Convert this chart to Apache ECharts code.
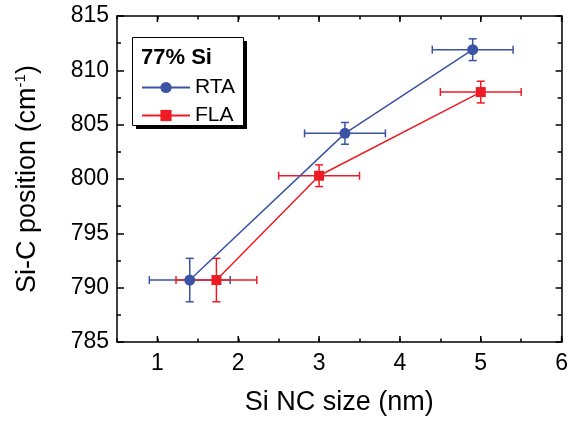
<!DOCTYPE html>
<html>
<head>
<meta charset="utf-8">
<script src="https://cdn.jsdelivr.net/npm/echarts@6/dist/echarts.min.js"></script>
<style>
  html, body { margin: 0; padding: 0; background: #fff; }
  #chart { width: 571px; height: 421px; }
</style>
</head>
<body>
<div id="chart"></div>
<script>
// Axis tick labels
const xTicks = [1, 2, 3, 4, 5, 6];
const yTicks = [785, 790, 795, 800, 805, 810, 815];

// Rapid thermal annealing: Si NC size (nm), Si-C peak position (cm^-1), errors
const rtaSize = [1.4, 3.32, 4.9];
const rtaPos = [790.7, 804.2, 811.9];
const rtaSizeErr = [0.5, 0.5, 0.5];
const rtaPosErr = [2, 1, 1];

// Flash lamp annealing
const flaSize = [1.73, 3.0, 5.0];
const flaPos = [790.7, 800.3, 808.0];
const flaSizeErr = [0.5, 0.5, 0.5];
const flaPosErr = [2, 1, 1];

const BLUE = '#3a53a4';
const RED = '#ed1c24';
const FONT = '"Liberation Sans", Arial, Helvetica, sans-serif';

const xMin = 0.5, xMax = xTicks[xTicks.length - 1];
const yMin = yTicks[0], yMax = yTicks[yTicks.length - 1];

function errorBars(sx, sy, ex, ey, color) {
  return {
    type: 'custom',
    z: 2,
    silent: true,
    encode: { x: 0, y: 1 },
    data: sx.map((x, i) => [x, sy[i], ex[i], ey[i]]),
    renderItem(params, api) {
      const x = api.value(0), y = api.value(1), dx = api.value(2), dy = api.value(3);
      const c = api.coord([x, y]);
      const l = api.coord([x - dx, y])[0];
      const r = api.coord([x + dx, y])[0];
      const t = api.coord([x, y + dy])[1];
      const b = api.coord([x, y - dy])[1];
      const cap = 4;
      const style = { stroke: color, lineWidth: 1.5 };
      const seg = (x1, y1, x2, y2) => ({ type: 'line', shape: { x1, y1, x2, y2 }, style });
      return {
        type: 'group',
        children: [
          seg(l, c[1], r, c[1]),
          seg(l, c[1] - cap, l, c[1] + cap),
          seg(r, c[1] - cap, r, c[1] + cap),
          seg(c[0], t, c[0], b),
          seg(c[0] - cap, t, c[0] + cap, t),
          seg(c[0] - cap, b, c[0] + cap, b)
        ]
      };
    }
  };
}

// Longer major ticks at integer sizes on the bottom and top frame
const majorXTicks = {
  type: 'custom',
  z: 5,
  silent: true,
  encode: { x: 0 },
  data: xTicks.map(v => [v]),
  renderItem(params, api) {
    const v = api.value(0);
    const bottom = api.coord([v, yMin]);
    const top = api.coord([v, yMax]);
    const len = 6;
    const style = { stroke: '#000', lineWidth: 1.5 };
    return {
      type: 'group',
      children: [
        { type: 'line', shape: { x1: bottom[0], y1: bottom[1], x2: bottom[0], y2: bottom[1] - len }, style },
        { type: 'line', shape: { x1: top[0], y1: top[1], x2: top[0], y2: top[1] + len }, style }
      ]
    };
  }
};

const axisLine = { show: true, onZero: false, lineStyle: { color: '#000', width: 1.5 } };

const chart = echarts.init(document.getElementById('chart'), null, { renderer: 'canvas' });
chart.setOption({
  backgroundColor: '#fff',
  animation: false,
  grid: { left: 117, right: 7, top: 16, bottom: 77, containLabel: false },
  xAxis: [
    {
      type: 'value', position: 'bottom', min: xMin, max: xMax, interval: 0.5,
      axisLine,
      axisTick: { show: true, inside: true, length: 3.5, lineStyle: { color: '#000', width: 1.5 } },
      axisLabel: {
        show: true, margin: 10, color: '#000', fontSize: 23, fontFamily: FONT,
        formatter: v => (xTicks.includes(v) ? String(v) : '')
      },
      splitLine: { show: false },
      name: 'Si NC size (nm)', nameLocation: 'middle', nameGap: 47,
      nameTextStyle: { color: '#000', fontSize: 27, fontFamily: FONT }
    },
    {
      type: 'value', position: 'top', min: xMin, max: xMax, interval: 0.5,
      axisLine,
      axisTick: { show: true, inside: true, length: 3.5, lineStyle: { color: '#000', width: 1.5 } },
      axisLabel: { show: false },
      splitLine: { show: false }
    }
  ],
  yAxis: [
    {
      type: 'value', position: 'left', min: yMin, max: yMax, interval: 5,
      axisLine,
      axisTick: { show: true, inside: true, length: 7, lineStyle: { color: '#000', width: 1.5 } },
      minorTick: { show: true, splitNumber: 2, length: 4, lineStyle: { color: '#000', width: 1.5 } },
      axisLabel: { show: true, margin: 8, color: '#000', fontSize: 23, fontFamily: FONT },
      splitLine: { show: false },
      minorSplitLine: { show: false },
      name: '{a|Si-C position (cm}{s|-1}{a|)}', nameLocation: 'middle', nameGap: 74, nameRotate: 90,
      nameTextStyle: {
        color: '#000', fontFamily: FONT,
        rich: {
          a: { fontSize: 27, fontFamily: FONT, color: '#000', lineHeight: 30 },
          s: { fontSize: 15, fontFamily: FONT, color: '#000', verticalAlign: 'top', lineHeight: 30 }
        }
      }
    },
    {
      type: 'value', position: 'right', min: yMin, max: yMax, interval: 5,
      axisLine,
      axisTick: { show: true, inside: true, length: 6, lineStyle: { color: '#000', width: 1.5 } },
      minorTick: { show: true, splitNumber: 2, length: 4, lineStyle: { color: '#000', width: 1.5 } },
      axisLabel: { show: false },
      splitLine: { show: false },
      minorSplitLine: { show: false }
    }
  ],
  legend: {
    data: ['RTA', 'FLA'],
    orient: 'vertical',
    left: 141, top: 77,
    padding: 0,
    itemWidth: 48, itemHeight: 14, itemGap: 7,
    textStyle: { color: '#000', fontSize: 21, fontFamily: FONT },
    selectedMode: false,
    z: 10
  },
  graphic: [
    { type: 'rect', z: 8, shape: { x: 136, y: 41, width: 111, height: 88 }, style: { fill: '#000' } },
    { type: 'rect', z: 9, shape: { x: 132.5, y: 37.5, width: 111, height: 88 }, style: { fill: '#fff', stroke: '#000', lineWidth: 1 } },
    {
      type: 'text', z: 10, x: 141, y: 58,
      style: { text: '77% Si', fill: '#000', fontSize: 22, fontWeight: 'bold', fontFamily: FONT, verticalAlign: 'middle' }
    }
  ],
  series: [
    errorBars(rtaSize, rtaPos, rtaSizeErr, rtaPosErr, BLUE),
    errorBars(flaSize, flaPos, flaSizeErr, flaPosErr, RED),
    {
      name: 'RTA', type: 'line', z: 3,
      data: rtaSize.map((x, i) => [x, rtaPos[i]]),
      symbol: 'circle', symbolSize: 11,
      lineStyle: { color: BLUE, width: 1.5 },
      itemStyle: { color: BLUE }
    },
    {
      name: 'FLA', type: 'line', z: 3,
      data: flaSize.map((x, i) => [x, flaPos[i]]),
      symbol: 'rect', symbolSize: 10,
      lineStyle: { color: RED, width: 1.5 },
      itemStyle: { color: RED }
    },
    majorXTicks
  ]
});
</script>
</body>
</html>
